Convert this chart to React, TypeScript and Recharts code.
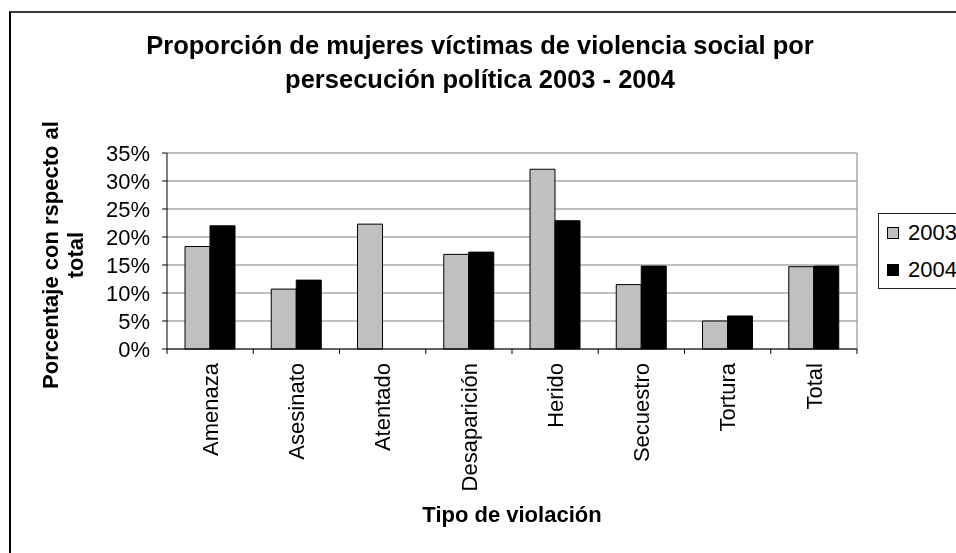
import React from 'react';
import { BarChart, Bar, XAxis, YAxis, CartesianGrid } from 'recharts';

const categories = ['Amenaza', 'Asesinato', 'Atentado', 'Desaparición', 'Herido', 'Secuestro', 'Tortura', 'Total'];
const values2003 = [18.3, 10.7, 22.3, 16.9, 32.1, 11.5, 5.0, 14.7];
const values2004 = [22.0, 12.3, 0, 17.3, 22.9, 14.8, 5.9, 14.8];
const yTicks = [0, 5, 10, 15, 20, 25, 30, 35];
const seriesNames = ['2003', '2004'];
const seriesColors = ['#c0c0c0', '#000000'];

const data = categories.map((name, i) => ({ name, y2003: values2003[i], y2004: values2004[i] }));

const FONT = '"Liberation Sans", Arial, sans-serif';
const TICK_SIZE = 5;
const TICK_MARGIN = 9;

const CategoryTick = (props: any) => {
  const { x, y, payload, index, visibleTicksCount, width } = props;
  const half = payload && payload.offset ? payload.offset : width / visibleTicksCount / 2;
  const axisY = y - TICK_SIZE - TICK_MARGIN;
  return (
    <g>
      <line x1={x - half} x2={x - half} y1={axisY} y2={axisY + TICK_SIZE} stroke="#000" />
      {index === visibleTicksCount - 1 && (
        <line x1={x + half} x2={x + half} y1={axisY} y2={axisY + TICK_SIZE} stroke="#000" />
      )}
      <text
        x={x}
        y={y}
        dy="0.35em"
        textAnchor="end"
        transform={`rotate(-90, ${x}, ${y})`}
        fontFamily={FONT}
        fontSize={22}
        fill="#000"
      >
        {payload.value}
      </text>
    </g>
  );
};

const LegendBox = () => (
  <div
    style={{
      position: 'absolute',
      left: 867,
      top: 200,
      width: 100,
      height: 76,
      border: '1px solid #222',
      background: '#fff',
      fontFamily: FONT,
      fontSize: 22,
      boxSizing: 'border-box',
      paddingLeft: 8,
    }}
  >
    {seriesNames.map((label, i) => (
      <div key={label} style={{ display: 'flex', alignItems: 'center', height: 37 }}>
        <span
          style={{
            display: 'inline-block',
            width: 10,
            height: 10,
            background: seriesColors[i],
            border: '1px solid #000',
            marginRight: 9,
          }}
        />
        <span>{label}</span>
      </div>
    ))}
  </div>
);

export default function App() {
  return (
    <div
      style={{
        position: 'fixed',
        left: 9,
        top: 11,
        overflow: 'hidden',
        borderTop: '2px solid #3a3a3a',
        borderLeft: '2px solid #000',
        width: 945,
        height: 540,
      }}
    >
      <BarChart
        width={945}
        height={540}
        data={data}
        margin={{ top: 140, right: 99, left: 56, bottom: 54 }}
        barSize={25}
        barGap={0}
      >
        <CartesianGrid
          stroke="#808080"
          horizontal
          vertical
          verticalCoordinatesGenerator={({ offset }: any) => [offset.left + offset.width]}
        />
        <XAxis
          dataKey="name"
          interval={0}
          height={150}
          tickSize={TICK_SIZE}
          tickMargin={TICK_MARGIN}
          tickLine={false}
          axisLine={{ stroke: '#000' }}
          tick={<CategoryTick />}
        />
        <YAxis
          width={100}
          domain={[0, 35]}
          ticks={yTicks}
          interval={0}
          tickSize={TICK_SIZE}
          tickMargin={12}
          axisLine={{ stroke: '#000' }}
          tickLine={{ stroke: '#000' }}
          tickFormatter={(v: number) => `${v}%`}
          tick={{ fill: '#000', fontFamily: FONT, fontSize: 22 }}
        />
        <Bar dataKey="y2003" name={seriesNames[0]} fill={seriesColors[0]} stroke="#000" strokeWidth={1} isAnimationActive={false} />
        <Bar dataKey="y2004" name={seriesNames[1]} fill={seriesColors[1]} stroke="#000" strokeWidth={1} isAnimationActive={false} />
        <text x={469} y={41} textAnchor="middle" fontFamily={FONT} fontWeight="bold" fontSize={25.5} fill="#000">
          Proporción de mujeres víctimas de violencia social por
        </text>
        <text x={469} y={75} textAnchor="middle" fontFamily={FONT} fontWeight="bold" fontSize={25.5} fill="#000">
          persecución política 2003 - 2004
        </text>
        <text
          x={47}
          y={242}
          textAnchor="middle"
          transform="rotate(-90, 47, 242)"
          fontFamily={FONT}
          fontWeight="bold"
          fontSize={22}
          fill="#000"
        >
          Porcentaje con rspecto al
        </text>
        <text
          x={72}
          y={242}
          textAnchor="middle"
          transform="rotate(-90, 72, 242)"
          fontFamily={FONT}
          fontWeight="bold"
          fontSize={22}
          fill="#000"
        >
          total
        </text>
        <text x={501} y={509} textAnchor="middle" fontFamily={FONT} fontWeight="bold" fontSize={22} fill="#000">
          Tipo de violación
        </text>
      </BarChart>
      <LegendBox />
    </div>
  );
}
